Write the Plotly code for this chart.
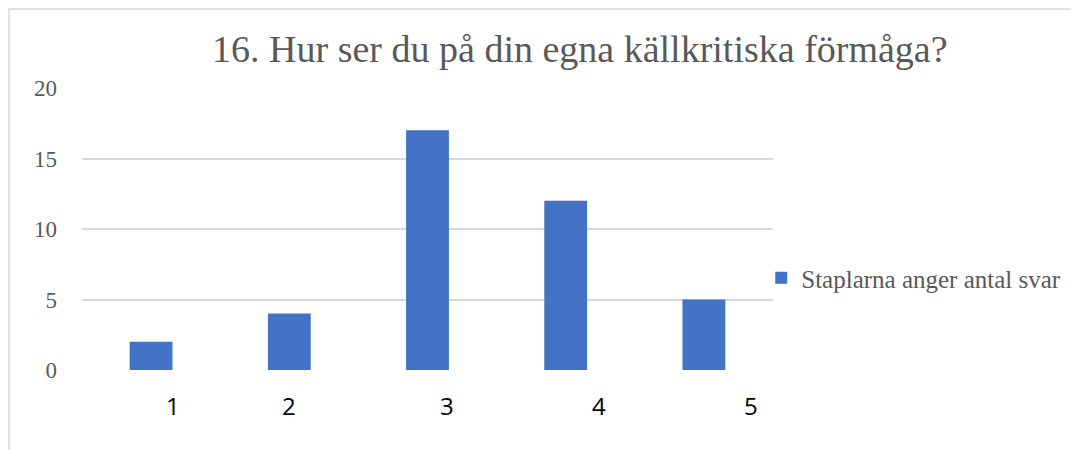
import plotly.graph_objects as go

# answers per grade
categories = ["1", "2", "3", "4", "5"]
answers = [2, 4, 17, 12, 5]
series_name = "Staplarna anger antal svar"
title_text = "16. Hur ser du på din egna källkritiska förmåga?"
y_ticks = [0, 5, 10, 15, 20]

# the category labels sit a bit to the right of their bars in the original
label_shift = [0.16, 0.0, 0.14, 0.24, 0.34]

serif = "Liberation Serif"
grey = "#595959"

trace0 = go.Bar(
    x=categories,
    y=answers,
    name=series_name,
    width=0.31,
    marker={"color": "#4472C4", "line": {"width": 0}},
    showlegend=True,
)

labels = []
for i, (cat, shift) in enumerate(zip(categories, label_shift)):
    labels.append(dict(
        x=i + shift, y=0, xref="x", yref="y",
        text=cat, showarrow=False,
        yanchor="top", yshift=-17,
        font={"family": "Open Sans", "size": 24, "color": "#000000"},
    ))

layout = go.Layout(
    width=1079,
    height=450,
    margin={"l": 74, "r": 314, "t": 80, "b": 88},
    paper_bgcolor="white",
    plot_bgcolor="white",
    title={
        "text": title_text,
        "x": 0.530, "xref": "container", "xanchor": "center",
        "y": 0.910, "yanchor": "middle",
        "font": {"family": serif, "size": 38, "color": grey},
    },
    xaxis={
        "type": "category",
        "range": [-0.5, 4.5],
        "showticklabels": False,
        "showgrid": False,
        "zeroline": False,
        "showline": False,
    },
    yaxis={
        "range": [0, 20],
        "tickvals": y_ticks,
        "showgrid": True,
        "gridcolor": "#d9d9d9",
        "gridwidth": 1.5,
        "zeroline": False,
        "showline": False,
        "ticklabelstandoff": 24,
        "tickfont": {"family": serif, "size": 23, "color": grey},
    },
    legend={
        "x": 0.983, "xanchor": "left",
        "y": 0.326, "yanchor": "middle",
        "font": {"family": serif, "size": 25, "color": grey},
        "bgcolor": "rgba(0,0,0,0)",
    },
    annotations=labels,
    shapes=[dict(
        type="rect", xref="paper", yref="paper",
        x0=-0.1056, x1=1.5, y0=-0.4, y1=1.28,
        line={"color": "#d9d9d9", "width": 1.5},
        layer="below",
    )],
)

fig = go.Figure(data=[trace0], layout=layout)
fig.write_html("out.html")
